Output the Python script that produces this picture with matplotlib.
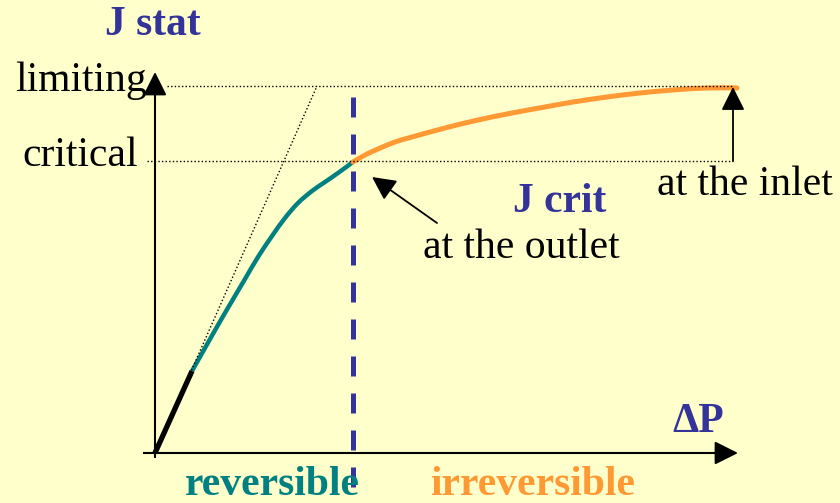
import matplotlib
matplotlib.use("Agg")
import matplotlib.pyplot as plt
from matplotlib.path import Path
from matplotlib.patches import PathPatch

# ---- data (units: arbitrary ΔP / J scale) ----
J_LIMITING = 367
J_CRITICAL = 292
DP_CRIT = 198          # ΔP at which J reaches J crit at the outlet
DP_MAX = 583           # end of x axis

linear_x = [0, 37]
linear_y = [0, 82]

reversible_x = [37, 50, 63, 77, 90, 103, 117, 130, 143, 157, 170, 183, 198]
reversible_y = [82, 105, 128, 152, 174, 196, 217, 235, 250, 262, 271, 280, 291]

irreversible_x = [198, 210, 223, 240, 257, 290, 323, 357, 390, 418, 452, 485, 518, 552, 582]
irreversible_y = [291, 298, 304, 311, 316, 325, 333, 340, 346, 351, 356, 360, 363, 365, 365]

tangent_x = [0, 162]
tangent_y = [0, J_LIMITING]

BG = "#FFFFCC"
TEAL = "#008080"
ORANGE = "#FF9933"
BLUE = "#333399"
SERIF = ["Liberation Serif", "DejaVu Serif"]
FS = 30


def smooth_path(xs, ys):
    """Catmull-Rom curve through the given points, as cubic Bezier path."""
    pts = list(zip(xs, ys))
    n = len(pts)
    verts = [pts[0]]
    codes = [Path.MOVETO]
    for i in range(n - 1):
        p0 = pts[i - 1] if i > 0 else pts[i]
        p1 = pts[i]
        p2 = pts[i + 1]
        p3 = pts[i + 2] if i + 2 < n else pts[i + 1]
        c1 = (p1[0] + (p2[0] - p0[0]) / 6, p1[1] + (p2[1] - p0[1]) / 6)
        c2 = (p2[0] - (p3[0] - p1[0]) / 6, p2[1] - (p3[1] - p1[1]) / 6)
        verts += [c1, c2, p2]
        codes += [Path.CURVE4] * 3
    return Path(verts, codes)


fig = plt.figure(figsize=(8.40, 5.03), dpi=100, facecolor=BG)
ax = fig.add_axes([0, 0, 1, 1])
ax.set_facecolor(BG)
ax.set_xlim(-155, 685)
ax.set_ylim(-50, 453)
ax.axis("off")

# reference dotted lines
ax.plot([12, 578], [J_LIMITING, J_LIMITING], color="black", lw=1.0, ls=(0, (1, 1.6)))
ax.plot([-8, 578], [J_CRITICAL, J_CRITICAL], color="black", lw=1.0, ls=(0, (1, 1.6)))
ax.plot(tangent_x, tangent_y, color="black", lw=1.0, ls=(0, (1, 1.6)))

# axes with arrows
ax.plot([0, 0], [-5, 370], color="black", lw=1.5, solid_capstyle="butt")
ax.annotate("", xy=(0, 381), xytext=(0, 360),
            arrowprops=dict(arrowstyle="-|>,head_length=0.9,head_width=0.45",
                            color="black", lw=1.5, shrinkA=0, shrinkB=0,
                            mutation_scale=16))
ax.plot([-12, 570], [0, 0], color="black", lw=1.5, solid_capstyle="butt")
ax.annotate("", xy=(DP_MAX, 0), xytext=(560, 0),
            arrowprops=dict(arrowstyle="-|>,head_length=0.9,head_width=0.45",
                            color="black", lw=1.5, shrinkA=0, shrinkB=0,
                            mutation_scale=16))

# dashed vertical at critical ΔP
ax.plot([DP_CRIT, DP_CRIT], [356, -40], color=BLUE, lw=3.6, ls=(0, (4.0, 3.4)),
        solid_capstyle="butt", dash_capstyle="butt")

# curves
ax.plot(linear_x, linear_y, color="black", lw=3.8, solid_capstyle="butt")
ax.add_patch(PathPatch(smooth_path(reversible_x, reversible_y), fill=False,
                       edgecolor=TEAL, lw=3.2, capstyle="butt", joinstyle="round"))
ax.add_patch(PathPatch(smooth_path(irreversible_x, irreversible_y), fill=False,
                       edgecolor=ORANGE, lw=3.6, capstyle="round", joinstyle="round"))

# annotation arrows
ax.annotate("", xy=(578, J_LIMITING - 1), xytext=(578, J_CRITICAL),
            arrowprops=dict(arrowstyle="-|>,head_length=0.9,head_width=0.45",
                            color="black", lw=1.3, shrinkA=0, shrinkB=0,
                            mutation_scale=16))
ax.annotate("", xy=(217, 276), xytext=(282, 230),
            arrowprops=dict(arrowstyle="-|>,head_length=0.9,head_width=0.45",
                            color="black", lw=1.3, shrinkA=0, shrinkB=0,
                            mutation_scale=16))

# texts
ax.text(-2, 418, "J stat", color=BLUE, fontsize=FS, fontweight="bold",
        family=SERIF, ha="center", va="baseline")
ax.text(-8, 362, "limiting", color="black", fontsize=FS, family=SERIF,
        ha="right", va="baseline")
ax.text(-17, 287, "critical", color="black", fontsize=FS, family=SERIF,
        ha="right", va="baseline")
ax.text(117, -42, "reversible", color=TEAL, fontsize=FS, fontweight="bold",
        family=SERIF, ha="center", va="baseline")
ax.text(378, -42, "irreversible", color=ORANGE, fontsize=FS, fontweight="bold",
        family=SERIF, ha="center", va="baseline")
ax.text(543, 21, "ΔP", color=BLUE, fontsize=FS, fontweight="bold",
        family=SERIF, ha="center", va="baseline")
ax.text(405, 241, "J crit", color=BLUE, fontsize=FS, fontweight="bold",
        family=SERIF, ha="center", va="baseline")
ax.text(366, 195, "at the outlet", color="black", fontsize=FS, family=SERIF,
        ha="center", va="baseline")
ax.text(590, 258, "at the inlet", color="black", fontsize=FS, family=SERIF,
        ha="center", va="baseline")

fig.savefig("out.png", dpi=100, facecolor=BG)
